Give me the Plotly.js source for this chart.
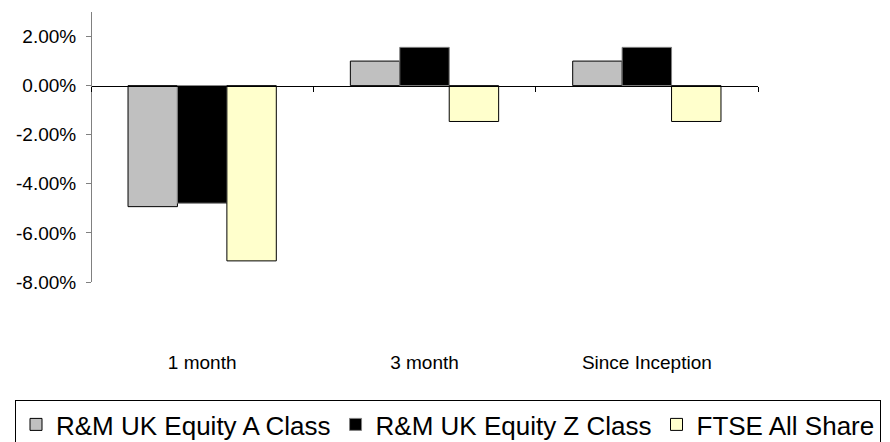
<!DOCTYPE html>
<html>
<head>
<meta charset="utf-8">
<script src="https://cdn.plot.ly/plotly-3.0.1.min.js"></script>
<style>html,body{margin:0;padding:0;background:#fff;overflow:hidden;}#chart{width:890px;height:442px;}</style>
</head>
<body>
<div id="chart"></div>
<script>
const categories = ["1 month", "3 month", "Since Inception"];
const seriesNames = ["R&M UK Equity A Class", "R&M UK Equity Z Class", "FTSE All Share"];
const classA = [-4.93, 1.00, 1.00];
const classZ = [-4.79, 1.56, 1.56];
const ftseAll = [-7.14, -1.46, -1.46];
const yTickVals = [-8, -6, -4, -2, 0, 2];
const yTickText = ["-8.00%", "-6.00%", "-4.00%", "-2.00%", "0.00%", "2.00%"];
const yRange = [-8, 3];

const fills = ["#C0C0C0", "#000000", "#FFFFCC"];
const edges = ["#000000", "#808080", "#000000"];
const series = [classA, classZ, ftseAll];

const traces = series.map((vals, i) => ({
  type: "bar",
  name: seriesNames[i],
  x: categories,
  y: vals,
  marker: {color: fills[i], line: {color: edges[i], width: 1}},
  hoverinfo: "skip"
}));

const W = 890, H = 442;
const layout = {
  width: W, height: H,
  margin: {l: 0, r: 0, t: 12, b: 160},
  paper_bgcolor: "#ffffff",
  plot_bgcolor: "rgba(0,0,0,0)",
  barmode: "group",
  bargap: 0.333,
  bargroupgap: 0,
  showlegend: true,
  font: {family: "Liberation Sans, Arial, sans-serif", color: "#000000"},
  xaxis: {
    type: "category",
    domain: [91 / W, 758 / W],
    anchor: "free",
    position: (0 - yRange[0]) / (yRange[1] - yRange[0]),
    showline: true, linecolor: "#000000", linewidth: 1,
    ticks: "outside", tickson: "boundaries", ticklen: 5, tickcolor: "#000000",
    ticklabelstandoff: 260,
    tickfont: {size: 19, family: "Liberation Sans, Arial, sans-serif"},
    showgrid: false, zeroline: false, fixedrange: true, automargin: false
  },
  yaxis: {
    range: yRange,
    anchor: "free",
    position: 91 / W,
    tickvals: yTickVals, ticktext: yTickText,
    showline: true, linecolor: "#808080", linewidth: 1,
    ticks: "outside", ticklen: 5, tickcolor: "#808080",
    ticklabelstandoff: 6,
    tickfont: {size: 19, family: "Liberation Sans, Arial, sans-serif"},
    showgrid: false, zeroline: false, fixedrange: true, automargin: false
  },
  legend: {
    orientation: "h",
    xref: "container", yref: "container",
    x: 15 / W, xanchor: "left",
    y: (H - 400) / H, yanchor: "top",
    bordercolor: "#000000", borderwidth: 1,
    bgcolor: "#ffffff",
    font: {size: 26, family: "Liberation Sans, Arial, sans-serif"},
    traceorder: "normal"
  }
};

Plotly.newPlot("chart", traces, layout, {staticPlot: true, displayModeBar: false});
</script>
</body>
</html>
